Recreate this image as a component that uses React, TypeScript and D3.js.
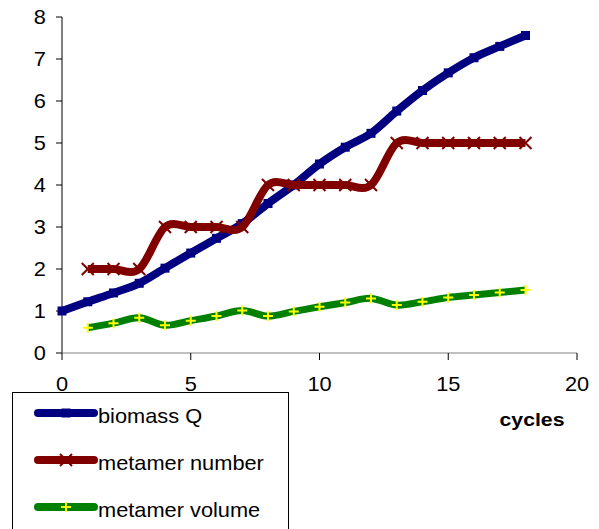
import { scaleLinear, line, curveCardinal } from 'd3';

const W = 599;
const H = 529;

const cyclesQ = [0, 1, 2, 3, 4, 5, 6, 7, 8, 9, 10, 11, 12, 13, 14, 15, 16, 17, 18];
const biomassQ = [1.0, 1.22, 1.43, 1.66, 2.02, 2.38, 2.73, 3.08, 3.56, 4.0, 4.5, 4.9, 5.23, 5.76, 6.25, 6.67, 7.03, 7.3, 7.56];

const cyclesM = [1, 2, 3, 4, 5, 6, 7, 8, 9, 10, 11, 12, 13, 14, 15, 16, 17, 18];
const metamerNumber = [2, 2, 2, 3, 3, 3, 3, 4, 4, 4, 4, 4, 5, 5, 5, 5, 5, 5];
const metamerVolume = [0.6, 0.71, 0.84, 0.66, 0.77, 0.88, 1.01, 0.88, 0.99, 1.1, 1.2, 1.3, 1.14, 1.22, 1.32, 1.38, 1.44, 1.5];

const xTicks = [0, 5, 10, 15, 20];
const yTicks = [0, 1, 2, 3, 4, 5, 6, 7, 8];

const BLUE = '#000080';
const RED = '#800000';
const GREEN = '#008000';
const YELLOW = '#ffff00';
const FONT = '"Liberation Sans", Arial, sans-serif';
// the source text is slightly wider than plain Arial
const STRETCH = 1.09;

type Pt = [number, number];

function Label({
  x, y, children, anchor = 'start', size = 20, bold = false, stretch = STRETCH,
}: {
  x: number; y: number; children: any; anchor?: string; size?: number; bold?: boolean; stretch?: number;
}) {
  return (
    <text
      transform={`translate(${x},${y}) scale(${stretch},1)`}
      textAnchor={anchor}
      fontSize={size}
      fontWeight={bold ? 'bold' : 'normal'}
      fill="#000"
    >
      {children}
    </text>
  );
}

function Square({ x, y, s = 9 }: { x: number; y: number; s?: number }) {
  return <rect x={x - s / 2} y={y - s / 2} width={s} height={s} fill={BLUE} />;
}

function Cross({ x, y, r = 6 }: { x: number; y: number; r?: number }) {
  return (
    <path
      d={`M${x - r},${y - r}L${x + r},${y + r}M${x - r},${y + r}L${x + r},${y - r}`}
      stroke={RED}
      strokeWidth={2}
    />
  );
}

function Plus({ x, y, r = 5 }: { x: number; y: number; r?: number }) {
  return (
    <path
      d={`M${x - r},${y}L${x + r},${y}M${x},${y - r}L${x},${y + r}`}
      stroke={YELLOW}
      strokeWidth={2}
    />
  );
}

export default function App() {
  const x = scaleLinear().domain([0, 20]).range([62, 577]);
  const y = scaleLinear().domain([0, 8]).range([353, 17]);

  const gen = line<Pt>()
    .x(d => x(d[0]))
    .y(d => y(d[1]))
    .curve(curveCardinal.tension(0));

  const qPts: Pt[] = cyclesQ.map((c, i) => [c, biomassQ[i]]);
  const nPts: Pt[] = cyclesM.map((c, i) => [c, metamerNumber[i]]);
  const vPts: Pt[] = cyclesM.map((c, i) => [c, metamerVolume[i]]);

  const legend = [
    { label: 'biomass Q', color: BLUE, kind: 'square' },
    { label: 'metamer number', color: RED, kind: 'cross' },
    { label: 'metamer volume', color: GREEN, kind: 'plus' },
  ];

  return (
    <svg
      width={W}
      height={H}
      style={{ position: 'absolute', left: 0, top: 0, background: '#fff' }}
      fontFamily={FONT}
    >
      {/* y axis */}
      <line x1={62} y1={y(0)} x2={62} y2={y(8)} stroke="#000" strokeWidth={1} />
      {yTicks.map(t => (
        <g key={t}>
          <line x1={56} x2={62} y1={y(t)} y2={y(t)} stroke="#000" />
          <Label x={46} y={y(t) + 7} anchor="end">{t}</Label>
        </g>
      ))}
      {/* x axis */}
      <line x1={x(0)} y1={y(0)} x2={x(20)} y2={y(0)} stroke="#808080" strokeWidth={1} />
      {xTicks.map(t => (
        <g key={t}>
          <line x1={x(t)} x2={x(t)} y1={y(0)} y2={y(0) + 7} stroke="#000" />
          <Label x={x(t)} y={391} anchor="middle">{t}</Label>
        </g>
      ))}
      <Label x={532} y={426} anchor="middle" size={19} bold stretch={1.12}>cycles</Label>

      {/* series */}
      <path d={gen(qPts) ?? ''} fill="none" stroke={BLUE} strokeWidth={8} strokeLinejoin="round" />
      {qPts.map((p, i) => (
        <Square key={i} x={x(p[0])} y={y(p[1])} />
      ))}
      <path d={gen(nPts) ?? ''} fill="none" stroke={RED} strokeWidth={8} strokeLinejoin="round" />
      {nPts.map((p, i) => (
        <Cross key={i} x={x(p[0])} y={y(p[1])} />
      ))}
      <path d={gen(vPts) ?? ''} fill="none" stroke={GREEN} strokeWidth={7} strokeLinejoin="round" />
      {vPts.map((p, i) => (
        <Plus key={i} x={x(p[0])} y={y(p[1])} />
      ))}

      {/* legend */}
      <rect x={12.5} y={392.5} width={276} height={150} fill="#fff" stroke="#000" strokeWidth={1} />
      {legend.map((l, i) => {
        const ly = 413 + i * 47;
        return (
          <g key={l.label}>
            <line x1={38} x2={94} y1={ly} y2={ly} stroke={l.color} strokeWidth={8} strokeLinecap="round" />
            {l.kind === 'square' && <Square x={66} y={ly} />}
            {l.kind === 'cross' && <Cross x={66} y={ly} />}
            {l.kind === 'plus' && <Plus x={66} y={ly} />}
            <Label x={98} y={ly + 9.5}>{l.label}</Label>
          </g>
        );
      })}
    </svg>
  );
}
